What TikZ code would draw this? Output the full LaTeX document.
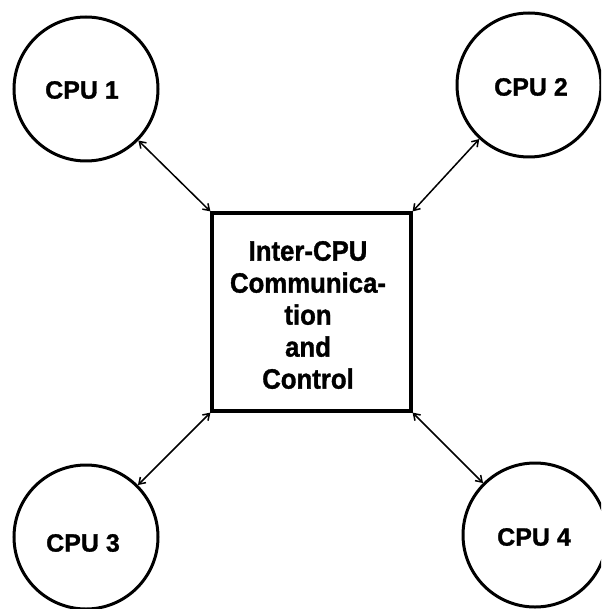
\documentclass[tikz,border=0pt]{standalone}
\usepackage{fontspec}
\setmainfont{Liberation Sans}[FakeBold=1.2]
\newfontfamily\boxfont{Liberation Sans}[FakeStretch=0.92,FakeBold=1.2]
\usetikzlibrary{arrows.meta}
\begin{document}
\begin{tikzpicture}[x=1pt,y=-1pt,
  cpu/.style={circle,draw,line width=3pt,minimum size=144pt,inner sep=0pt},
  cpulbl/.style={font=\bfseries\fontsize{25}{30}\selectfont,inner sep=0pt},
  hub/.style={draw,line width=3.2pt,minimum width=199pt,minimum height=198pt,inner sep=0pt},
  hublbl/.style={font=\boxfont\bfseries\fontsize{28}{32}\selectfont,align=center,inner sep=0pt},
  link/.style={line width=1.5pt,{Straight Barb[length=6pt,width=8pt]}-{Straight Barb[length=6pt,width=8pt]}}]
\useasboundingbox (0,0) rectangle (601,609);
\clip (0,0) rectangle (601,609);
\node[cpu] (c1) at (86,89) {};
\node[cpu] (c2) at (529,85) {};
\node[cpu] (c3) at (86,537) {};
\node[cpu] (c4) at (535,535) {};
\node[cpulbl] (t1) at (82,90) {CPU 1};
\node[cpulbl] (t2) at (531,87) {CPU 2};
\node[cpulbl] (t3) at (83,543) {CPU 3};
\node[cpulbl] (t4) at (534,537) {CPU 4};
\node[hub] (hub) at (311.5,312) {};
\node[hublbl] (ht) at (308,315) {Inter-CPU\\Communica-\\tion\\and\\Control};
\draw[link] (c1) -- (hub.north west);
\draw[link] (c2) -- (hub.north east);
\draw[link] (c3) -- (hub.south west);
\draw[link] (c4) -- (hub.south east);
\end{tikzpicture}
\end{document}
